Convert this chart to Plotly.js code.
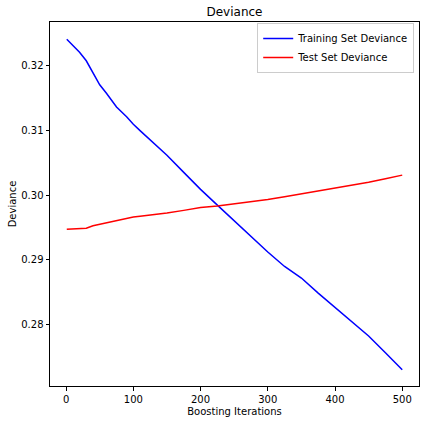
<!DOCTYPE html>
<html>
<head>
<meta charset="utf-8">
<script src="https://cdn.plot.ly/plotly-3.0.1.min.js"></script>
<style>html,body{margin:0;padding:0;background:#fff;}#chart{width:424px;height:424px;}</style>
</head>
<body>
<div id="chart"></div>
<script>
const iterations = [1, 10, 20, 30, 40, 50, 60, 75, 90, 100, 110, 125, 150, 175, 200, 225, 250, 275, 300, 325, 350, 375, 400, 425, 450, 475, 490, 500];
const trainDeviance = [0.32410, 0.32317, 0.32209, 0.32077, 0.31879, 0.31706, 0.31574, 0.31362, 0.31211, 0.31094, 0.30997, 0.30854, 0.30615, 0.30351, 0.30088, 0.29844, 0.29602, 0.29351, 0.29119, 0.28895, 0.28716, 0.28483, 0.28260, 0.28042, 0.27819, 0.27560, 0.27401, 0.27297];
const testDeviance = [0.29472, 0.29475, 0.29480, 0.29488, 0.29526, 0.29550, 0.29572, 0.29604, 0.29640, 0.29659, 0.29672, 0.29689, 0.29724, 0.29763, 0.29806, 0.29830, 0.29862, 0.29902, 0.29930, 0.29975, 0.30019, 0.30065, 0.30104, 0.30158, 0.30197, 0.30251, 0.30280, 0.30308];
const xTicks = [0, 100, 200, 300, 400, 500];
const yTicks = [0.28, 0.29, 0.30, 0.31, 0.32];
const yTickLabels = ["0.28", "0.29", "0.30", "0.31", "0.32"];

const font = "DejaVu Sans, sans-serif";
const traces = [
  {x: iterations, y: trainDeviance, type: "scatter", mode: "lines", name: "Training Set Deviance", line: {color: "blue", width: 1.5}},
  {x: iterations, y: testDeviance, type: "scatter", mode: "lines", name: "Test Set Deviance", line: {color: "red", width: 1.5}}
];
const axisCommon = {showline: true, mirror: true, linecolor: "#000", linewidth: 1, ticks: "outside", ticklen: 3.5, tickwidth: 1, tickcolor: "#000", showgrid: false, zeroline: false, tickfont: {family: font, size: 10, color: "#000"}};
const layout = {
  width: 424, height: 424,
  paper_bgcolor: "#fff", plot_bgcolor: "#fff",
  margin: {l: 50, r: 5.3, t: 22, b: 38},
  font: {family: font, color: "#000"},
  title: {text: "Deviance", font: {family: font, size: 12, color: "#000"}, x: 0.5, xref: "paper", y: 1 - 12/424, yref: "container", yanchor: "middle"},
  xaxis: Object.assign({}, axisCommon, {range: [-23.95, 524.95], tickvals: xTicks, title: {text: "Boosting Iterations", font: {family: font, size: 10, color: "#000"}, standoff: 4}}),
  yaxis: Object.assign({}, axisCommon, {range: [0.27046, 0.32677], tickvals: yTicks, ticktext: yTickLabels, title: {text: "Deviance", font: {family: font, size: 10, color: "#000"}, standoff: 2}}),
  legend: {x: 0.987, y: 0.997, xanchor: "right", yanchor: "top", itemwidth: 30, bgcolor: "rgba(255,255,255,0.8)", bordercolor: "#ccc", borderwidth: 1, font: {family: font, size: 10, color: "#000"}, tracegroupgap: 0},
  showlegend: true
};
Plotly.newPlot("chart", traces, layout, {displayModeBar: false, staticPlot: true});
</script>
</body>
</html>
